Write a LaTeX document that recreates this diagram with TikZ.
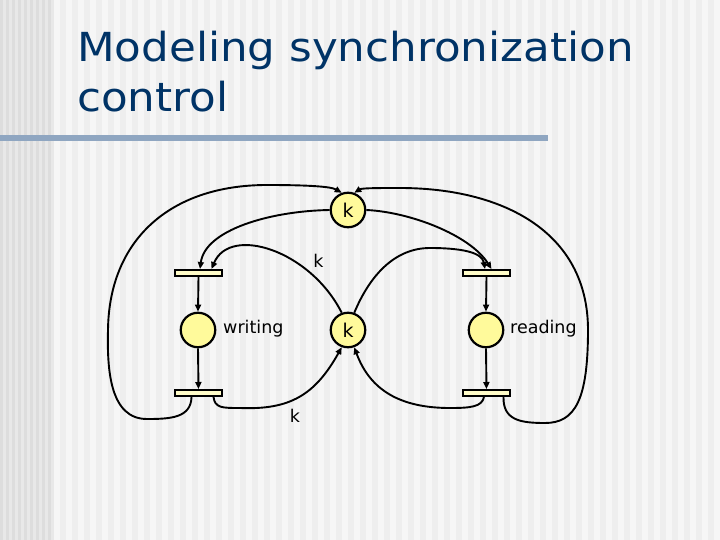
\documentclass[tikz,border=0pt]{standalone}
\usepackage{fontspec}
\setmainfont{DejaVu Sans}
\usetikzlibrary{arrows.meta}
\definecolor{titleblue}{RGB}{0,51,102}
\definecolor{barblue}{RGB}{143,166,193}
\definecolor{placefill}{RGB}{255,250,155}
\definecolor{transfill}{RGB}{255,252,200}
\definecolor{stripeA}{RGB}{221,221,221}
\definecolor{stripeB}{RGB}{232,232,232}
\definecolor{stripeC}{RGB}{246,246,246}
\definecolor{stripeD}{RGB}{238,238,238}
\tikzset{
  place/.style={circle,draw=black,line width=2.2pt,fill=placefill,minimum size=34.5pt,inner sep=0pt,font=\fontsize{19pt}{22pt}\selectfont},
  trans/.style={rectangle,draw=black,line width=2pt,fill=transfill,minimum width=47pt,minimum height=6pt,inner sep=0pt},
  arc/.style={draw=black,line width=1.9pt,-{Triangle[length=7pt,width=6pt]}},
  lbl/.style={inner sep=0pt,font=\fontsize{17.5pt}{20pt}\selectfont},
}
\begin{document}
\begin{tikzpicture}[x=1pt,y=-1pt]
\useasboundingbox (0,0) rectangle (720,540);
% background stripes
\fill[stripeC] (0,0) rectangle (720,540);
\foreach \i in {0,...,8} {
  \fill[stripeA] (6*\i,0) rectangle (6*\i+3,540);
  \fill[stripeB] (6*\i+3,0) rectangle (6*\i+6,540);
}
\foreach \i in {0,...,55} {
  \fill[stripeD] (60+12*\i,0) rectangle (66+12*\i,540);
}
% title
\node[anchor=base west,inner sep=0pt,text=titleblue,font=\fontsize{40pt}{50pt}\selectfont] (t1) at (77,62) {\scalebox{1.09}[1]{Modeling synchronization}};
\node[anchor=base west,inner sep=0pt,text=titleblue,font=\fontsize{40pt}{50pt}\selectfont] (t2) at (77,112) {\scalebox{1.09}[1]{control}};
\fill[barblue] (0,135) rectangle (548,141);
% nodes
\node[place] (ktop) at (348,210) {k};
\node[place] (kmid) at (348,330) {k};
\node[place] (w) at (198,330) {};
\node[place] (r) at (486,330) {};
\node[trans] (lt) at (198.5,273) {};
\node[trans] (lb) at (198.5,393) {};
\node[trans] (rt) at (486.5,273) {};
\node[trans] (rb) at (486.5,393) {};
\node[lbl,anchor=base west] (wl) at (223,333) {writing};
\node[lbl,anchor=base west] (rl) at (510,333) {reading};
\node[lbl] (k1) at (318.5,261) {k};
\node[lbl] (k2) at (295,416) {k};
% vertical arcs
\draw[arc] (lt.south) -- (w.north);
\draw[arc] (w.south) -- (lb.north);
\draw[arc] (rt.south) -- (r.north);
\draw[arc] (r.south) -- (rb.north);
% left side
\draw[arc] (ktop.west) .. controls (270,211) and (205,230) .. ([xshift=1.5pt]lt.north);
\draw[arc] (kmid.110) .. controls (310,250) and (230,225) .. ([xshift=13pt]lt.north);
\draw[arc] ([xshift=-7pt]lb.south) .. controls (191,418) and (170,419) .. (147,419)
   .. controls (110,419) and (107,370) .. (108,330)
   .. controls (109,240) and (170,185) .. (267,185)
   .. controls (300,185) and (330,186) .. (ktop.110);
\draw[arc] ([xshift=15pt]lb.south) .. controls (215,408) and (222,408) .. (240,408)
   .. controls (290,410) and (315,395) .. (kmid.250);
% right side
\draw[arc] (ktop.east) .. controls (410,212) and (470,235) .. ([xshift=5pt]rt.north);
\draw[arc] (kmid.70) .. controls (370,275) and (395,248) .. (430,248)
   .. controls (460,248) and (482,252) .. ([xshift=-1.5pt]rt.north);
\draw[arc] ([xshift=17pt]rb.south) .. controls (503,420) and (520,423) .. (545,423)
   .. controls (575,423) and (588,400) .. (588,330)
   .. controls (588,230) and (500,188) .. (400,188)
   .. controls (380,188) and (362,188) .. (ktop.70);
\draw[arc] ([xshift=-2.5pt]rb.south) .. controls (482,407) and (470,408) .. (450,408)
   .. controls (400,408) and (370,390) .. (kmid.290);
\end{tikzpicture}
\end{document}
